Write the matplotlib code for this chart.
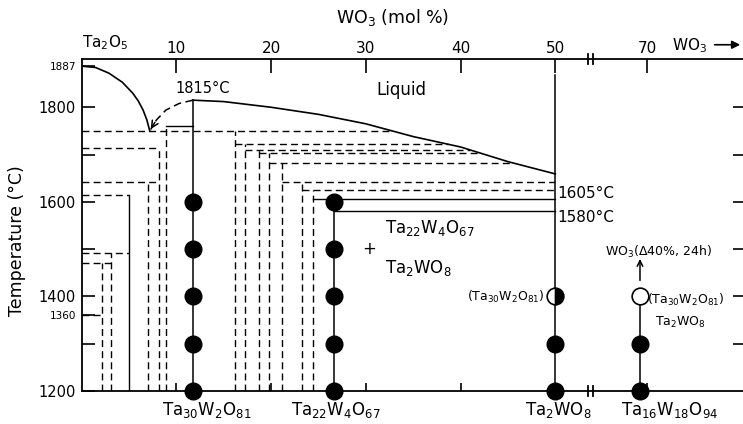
import numpy as np
import matplotlib.pyplot as plt
from matplotlib import transforms

plt.rcParams['font.family'] = 'DejaVu Sans'

# WO3 content in mol %; compositions past the axis break are drawn shifted left
BREAK_SHIFT = 10.3


def xb(m):
    m = np.asarray(m, dtype=float)
    return np.where(m > 52, m - BREAK_SHIFT, m)


# liquidus, Ta2O5 side down to the eutectic
liq_a_x = [0, 1.5, 2.9, 4.3, 5.4, 6.0, 6.5, 6.9, 7.2]
liq_a_t = [1887, 1884, 1872, 1853, 1830, 1813, 1794, 1773, 1750]
# dashed branch from the eutectic up to the Ta30W2O81 maximum
liq_b_x = [11.76, 10.3, 8.9, 7.9, 7.3]
liq_b_t = [1815, 1808, 1794, 1773, 1753]
# liquidus from the maximum to Ta2WO8
liq_c_x = [11.76, 15, 20, 25, 30, 35, 40, 45, 50]
liq_c_t = [1815, 1812, 1800, 1785, 1765, 1738, 1716, 1685, 1659]

# horizontal boundaries (end None = runs to the liquidus)
h_temp = [1750, 1761, 1713, 1643, 1615, 1492, 1470, 1360,
          1722, 1710, 1703, 1683, 1641, 1625, 1605, 1580]
h_start = [0, 8.9, 0, 0, 0, 0, 0, 0,
           16.2, 17.2, 18.7, 19.8, 21.2, 23.3, 24.4, 26.67]
h_end = [None, 11.76, 8.2, 8.2, 5.0, 5.0, 3.1, 2.2,
         None, None, None, None, 50, 50, 50, 50]
h_solid = [False, True, False, False, False, False, False, False,
           False, False, False, False, False, False, True, True]

# vertical boundaries, from the given temperature down to 1200
v_x = [2.2, 3.1, 5.0, 7.05, 8.2, 8.9, 16.2, 17.2, 18.7, 19.8, 21.2, 23.3, 24.4]
v_top = [1470, 1492, 1615, 1643, 1713, 1756, 1750, 1722, 1710, 1703, 1683, 1641, 1625]
v_solid = [False, False, True, False, False, False, False, False,
           False, False, False, False, False]

# compounds
comp_x = [11.76, 26.67, 50.0, 69.23]
comp_top = [1815, 1605, 1868, 1400]
comp_names = ['Ta$_{30}$W$_2$O$_{81}$', 'Ta$_{22}$W$_4$O$_{67}$',
              'Ta$_2$WO$_8$', 'Ta$_{16}$W$_{18}$O$_{94}$']
comp_label_x = [13.2, 26.8, 50.3, 72.3]

# heat-treatment results
full_temps = [1200, 1300, 1400, 1500, 1600]
ta2wo8_filled = [1200, 1300]
ta2wo8_half = [1400]
ta16_filled = [1200, 1300]
ta16_open = [1400]

top_ticks = [10, 20, 30, 40, 50, 70]
left_ticks = [1200, 1360, 1400, 1600, 1800, 1887]
left_minor = [1300, 1500, 1700]
right_ticks = [1300, 1400, 1500, 1600, 1700, 1800]

fig = plt.figure(figsize=(7.43, 4.24), dpi=100)
ax = fig.add_axes([0.1097, 0.0778, 0.8903, 0.783])
ax.set_xlim(0, 69.8)
ax.set_ylim(1200, 1902)

dash = (0, (5, 3))

# liquidus
ax.plot(liq_a_x, liq_a_t, color='k', lw=1.2)
ax.plot(liq_c_x, liq_c_t, color='k', lw=1.2)
ax.plot(liq_b_x, liq_b_t, color='k', lw=1.1, ls=dash)
ax.annotate('', xy=(liq_b_x[-1] - 0.15, liq_b_t[-1] - 4),
            xytext=(liq_b_x[-2], liq_b_t[-2]),
            arrowprops=dict(arrowstyle='->', color='k', lw=1.1,
                            mutation_scale=12))

# phase boundaries
for t, x0, x1, solid in zip(h_temp, h_start, h_end, h_solid):
    if x1 is None:
        x1 = np.interp(t, liq_c_t[::-1], liq_c_x[::-1])
    ax.plot([x0, x1], [t, t], color='k', lw=1.0,
            ls='-' if solid else dash)
for x, t, solid in zip(v_x, v_top, v_solid):
    ax.plot([x, x], [1200, t], color='k', lw=1.0,
            ls='-' if solid else dash)

for x, t in zip(comp_x, comp_top):
    ax.plot(xb([x, x]), [1200, t], color='k', lw=1.1)

ms = 12
ax.plot(np.full(len(full_temps), xb(comp_x[0])), full_temps, 'o',
        color='k', ms=ms, clip_on=False, zorder=5)
ax.plot(np.full(len(full_temps), xb(comp_x[1])), full_temps, 'o',
        color='k', ms=ms, clip_on=False, zorder=5)
ax.plot(np.full(len(ta2wo8_filled), xb(comp_x[2])), ta2wo8_filled, 'o',
        color='k', ms=ms, clip_on=False, zorder=5)
ax.plot(np.full(len(ta2wo8_half), xb(comp_x[2])), ta2wo8_half, 'o',
        ms=ms, mec='k', mfc='k', mfcalt='white', fillstyle='right',
        mew=1.2, zorder=5)
ax.plot(np.full(len(ta16_filled), xb(comp_x[3])), ta16_filled, 'o',
        color='k', ms=ms, clip_on=False, zorder=5)
ax.plot(np.full(len(ta16_open), xb(comp_x[3])), ta16_open, 'o',
        ms=ms, mec='k', mfc='white', mew=1.2, zorder=5)

# arrow for WO3 loss
ax.annotate('', xy=(xb(comp_x[3]), 1485), xytext=(xb(comp_x[3]), 1428),
            arrowprops=dict(arrowstyle='->', color='k', lw=1.1))
ax.text(60.9, 1494, 'WO$_3$(Δ40%, 24h)', fontsize=9, ha='center', va='center')
ax.text(59.7, 1393, '(Ta$_{30}$W$_2$O$_{81}$)', fontsize=9, ha='left', va='center')
ax.text(60.5, 1345, 'Ta$_2$WO$_8$', fontsize=9, ha='left', va='center')
ax.text(48.9, 1398, '(Ta$_{30}$W$_2$O$_{81}$)', fontsize=9, ha='right', va='center')

# region labels
ax.text(9.9, 1839, '1815°C', fontsize=10.5, ha='left', va='center')
ax.text(31.1, 1837, 'Liquid', fontsize=12, ha='left', va='center')
ax.text(50.25, 1618, '1605°C', fontsize=11, ha='left', va='center')
ax.text(50.25, 1567, '1580°C', fontsize=11, ha='left', va='center')
ax.text(30.4, 1500, '+', fontsize=12, ha='center', va='center')
ax.text(32.0, 1545, 'Ta$_{22}$W$_4$O$_{67}$', fontsize=12, ha='left', va='center')
ax.text(32.0, 1460, 'Ta$_2$WO$_8$', fontsize=12, ha='left', va='center')

for name, lx in zip(comp_names, comp_label_x):
    ax.annotate(name, xy=(xb(lx), 0), xycoords=('data', 'axes fraction'),
                xytext=(0, -14), textcoords='offset points',
                ha='center', va='center', fontsize=12)

# axes and ticks
for side in ['left', 'top', 'bottom']:
    ax.spines[side].set_linewidth(1.3)
ax.spines['right'].set_visible(False)

ax.set_xticks(xb(top_ticks), [str(v) for v in top_ticks])
ax.tick_params(axis='x', top=True, bottom=True, labeltop=True,
               labelbottom=False, direction='in', length=10, width=1.2,
               labelsize=11, pad=2)
for tick in ax.xaxis.get_major_ticks():
    tick.tick1line.set_markersize(6)

ax.set_yticks(left_ticks, [str(v) for v in left_ticks])
ax.set_yticks(left_minor, minor=True)
ax.tick_params(axis='y', which='both', direction='in', length=9, width=1.2,
               labelsize=10.5, pad=4)
for tick, val in zip(ax.yaxis.get_major_ticks(), left_ticks):
    if val in (1360, 1887):
        tick.tick1line.set_visible(False)
        tick.label1.set_fontsize(7.5)

ax2 = ax.twinx()
ax2.set_ylim(ax.get_ylim())
ax2.set_yticks(right_ticks)
ax2.tick_params(axis='y', direction='in', length=7, width=1.2, labelright=False)
for s in ax2.spines.values():
    s.set_visible(False)

# axis break marks
bt = transforms.blended_transform_factory(ax.transData, ax.transAxes)
for xm in [53.4, 54.0]:
    for yy in [0, 1]:
        ax.plot([xm, xm], [yy - 0.016, yy + 0.016], color='k', lw=1.3,
                transform=bt, clip_on=False)

ax.annotate('Ta$_2$O$_5$', xy=(0, 1), xycoords=('data', 'axes fraction'),
            xytext=(0, 5), textcoords='offset points', ha='left',
            va='bottom', fontsize=11)
ax.annotate('WO$_3$', xy=(62.3, 1), xycoords=('data', 'axes fraction'),
            xytext=(0, 3), textcoords='offset points', ha='left',
            va='bottom', fontsize=11)
ax.annotate('', xy=(1.0, 1.043), xytext=(0.953, 1.043),
            xycoords='axes fraction',
            arrowprops=dict(arrowstyle='-|>', color='k', lw=1.2,
                            mutation_scale=12))

fig.text(0.529, 0.958, 'WO$_3$ (mol %)', fontsize=12.5, ha='center', va='center')
ax.set_ylabel('Temperature (°C)', fontsize=12.5)
ax.yaxis.set_label_coords(-0.084, 0.452)

fig.savefig('out.png', dpi=100)
